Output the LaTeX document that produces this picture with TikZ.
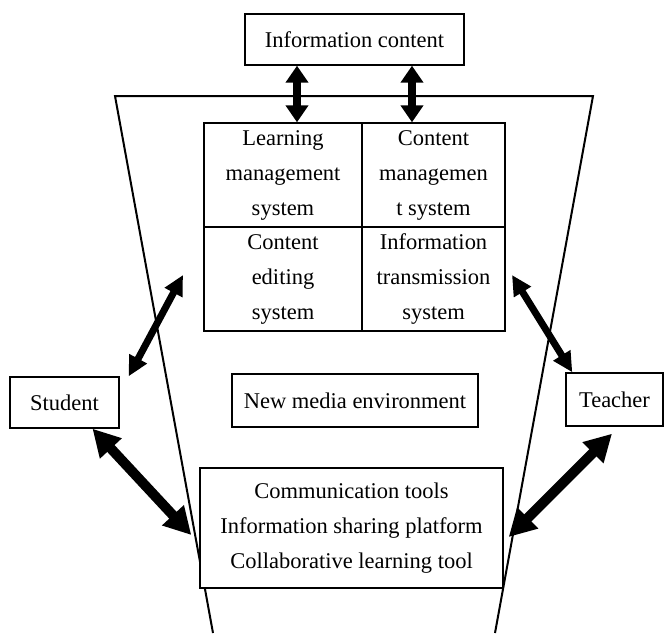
\documentclass[tikz,border=0pt]{standalone}
\usepackage{fontspec}
\setmainfont{Liberation Serif}
\usetikzlibrary{arrows.meta}
\begin{document}
\begin{tikzpicture}[x=1pt,y=-1pt,
  box/.style={draw, line width=1.4pt, fill=white, inner sep=0pt, align=center,
    font=\fontsize{22.5}{35}\selectfont},
  thinarrow/.style={line width=8pt, {Triangle[width=22pt,length=17pt]}-{Triangle[width=22pt,length=17pt]}},
  midarrow/.style={line width=7pt, {Triangle[width=19pt,length=20pt]}-{Triangle[width=19pt,length=20pt]}},
  bigarrow/.style={line width=10pt, {Triangle[width=28pt,length=27pt]}-{Triangle[width=28pt,length=27pt]}}]
\useasboundingbox (0,0) rectangle (665,633);
% trapezoid (new media environment)
\draw[line width=2pt, line join=miter] (213,633) -- (115,96) -- (593,96) -- (495,633);
% nodes
\node[box, minimum width=219pt, minimum height=51pt] (info) at (354.5,39.5) {Information content};
\node[box, minimum width=158pt, minimum height=104pt] (lms) at (283,175) {Learning\\management\\system};
\node[box, minimum width=143pt, minimum height=104pt] (cms) at (433.5,175) {Content\\managemen\\t system};
\node[box, minimum width=158pt, minimum height=104pt] (ces) at (283,279) {Content\\editing\\system};
\node[box, minimum width=143pt, minimum height=104pt] (its) at (433.5,279) {Information\\transmission\\system};
\node[box, minimum width=109pt, minimum height=51pt] (student) at (64.5,402.5) {Student};
\node[box, minimum width=97pt, minimum height=53pt] (teacher) at (614.5,399.5) {Teacher};
\node[box, minimum width=246pt, minimum height=53pt] (nme) at (355,400.5) {New media environment};
\node[box, minimum width=303pt, minimum height=120pt] (tools) at (351.5,528) {Communication tools\\Information sharing platform\\Collaborative learning tool};
% free ends
\coordinate (su) at (183,275);
\coordinate (tu) at (512,275);
% connectors
\draw[thinarrow] ([xshift=-57.5pt]info.south) -- ([xshift=14pt]lms.north);
\draw[thinarrow] ([xshift=57.5pt]info.south) -- ([xshift=-21.5pt]cms.north);
\draw[midarrow] ([xshift=9pt]student.north east) -- (su);
\draw[midarrow] (tu) -- ([xshift=7pt]teacher.north west);
\draw[bigarrow] ([xshift=28pt]student.south) -- ([shift={(-8pt,-7pt)}]tools.west);
\draw[bigarrow] ([shift={(5pt,-9pt)}]tools.east) -- ([shift={(-2.5pt,-7pt)}]teacher.south);
\end{tikzpicture}
\end{document}
